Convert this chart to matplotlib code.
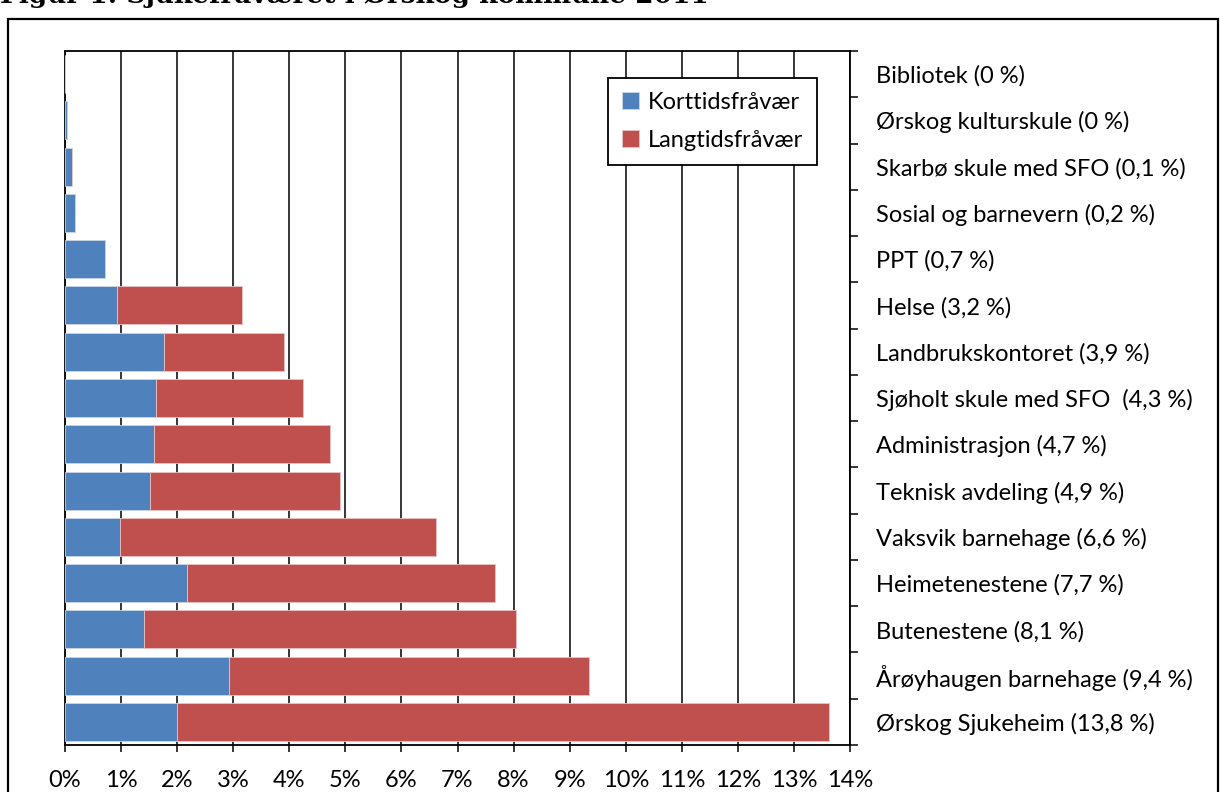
import matplotlib
matplotlib.use("Agg")
import matplotlib.pyplot as plt
from matplotlib.patches import Rectangle
import numpy as np

categories = [
    "Bibliotek (0 %)",
    "Ørskog kulturskule (0 %)",
    "Skarbø skule med SFO (0,1 %)",
    "Sosial og barnevern (0,2 %)",
    "PPT (0,7 %)",
    "Helse (3,2 %)",
    "Landbrukskontoret (3,9 %)",
    "Sjøholt skule med SFO  (4,3 %)",
    "Administrasjon (4,7 %)",
    "Teknisk avdeling (4,9 %)",
    "Vaksvik barnehage (6,6 %)",
    "Heimetenestene (7,7 %)",
    "Butenestene (8,1 %)",
    "Årøyhaugen barnehage (9,4 %)",
    "Ørskog Sjukeheim (13,8 %)",
]
korttid = [0.0, 0.03, 0.12, 0.18, 0.71, 0.92, 1.77, 1.62, 1.58, 1.52, 0.98, 2.18, 1.40, 2.92, 2.00]
langtid = [0.0, 0.0, 0.0, 0.0, 0.0, 2.23, 2.13, 2.62, 3.15, 3.38, 5.63, 5.49, 6.65, 6.42, 11.62]
x_ticks = list(range(0, 15))
x_labels = [f"{t}%" for t in x_ticks]
series_names = ["Korttidsfråvær", "Langtidsfråvær"]
title = "Figur 1: Sjukefråværet i Ørskog kommune 2011"

W, H = 1220, 792
fig = plt.figure(figsize=(W / 100, H / 100), dpi=100)
FONT = "Lato"
FS = 17

# outer frame
fig.patches.append(Rectangle((8 / W, -0.02), (1218 - 8) / W, 1.02 - 19 / H,
                             transform=fig.transFigure, fill=False,
                             edgecolor="black", linewidth=1.6))
fig.text(0.0, 1 - 3 / H, title, fontsize=19, fontweight="bold",
         family="DejaVu Serif", ha="left", va="baseline")

ax = fig.add_axes([65 / W, (H - 745) / H, (850 - 65) / W, (745 - 51) / H])
y = np.arange(len(categories))
blue = "#4F81BD"
red = "#C0504D"
ax.barh(y, korttid, height=0.82, color=blue, edgecolor="#c9d6ea", linewidth=0.6,
        label=series_names[0], zorder=3)
ax.barh(y, langtid, left=korttid, height=0.82, color=red, edgecolor="#e8c4c3",
        linewidth=0.6, label=series_names[1], zorder=3)

ax.set_xlim(0, 14)
ax.set_ylim(len(categories) - 0.5, -0.5)
ax.set_xticks(x_ticks)
ax.set_xticklabels(x_labels, fontsize=FS, family=FONT)
ax.grid(axis="x", color="black", linewidth=1.1, zorder=0)
ax.set_axisbelow(True)

ax.yaxis.tick_right()
ax.set_yticks(y)
ax.set_yticklabels(categories, fontsize=FS, family=FONT)
ax.tick_params(axis="y", which="major", length=0, pad=19)
ax.set_yticks(np.arange(-0.5, len(categories)), minor=True)
ax.tick_params(axis="y", which="minor", length=6, width=1.1, direction="out",
               right=True, left=False)
ax.tick_params(axis="x", which="major", length=5, width=1.1, direction="out", pad=13)

for s in ["left", "right", "bottom", "top"]:
    ax.spines[s].set_linewidth(1.3)
    ax.spines[s].set_color("black")

leg = ax.legend(loc="upper left", bbox_to_anchor=(608 / W, 1 - 78 / H),
                bbox_transform=fig.transFigure, prop={"family": FONT, "size": FS},
                frameon=True, fancybox=False, edgecolor="black", handlelength=0.72,
                handleheight=0.72, handletextpad=0.35, labelspacing=0.72,
                borderpad=0.6, borderaxespad=0)
leg.get_frame().set_linewidth(1.3)
leg.get_frame().set_alpha(1)

fig.savefig("out.png", dpi=100)
